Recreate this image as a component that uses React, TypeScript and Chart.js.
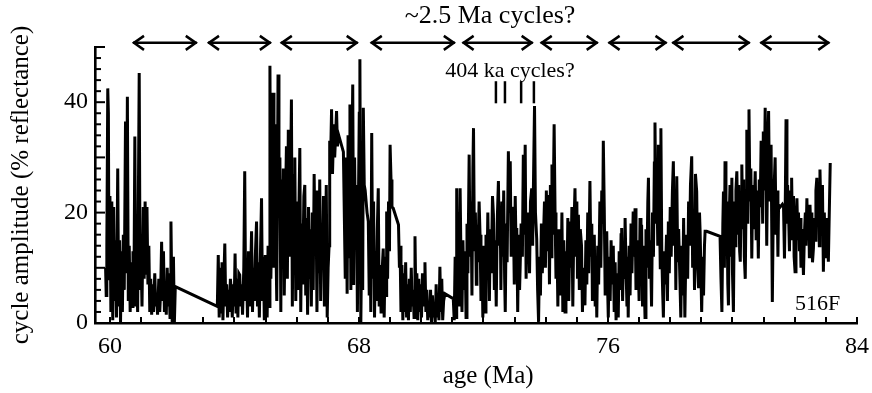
import React, { useEffect, useRef } from "react";
import { Chart, registerables } from "chart.js";

Chart.register(...registerables);

// ---- data (age in Ma, cycle amplitude in % reflectance) ----
const ageA = [59.86, 59.88, 59.90, 59.93, 59.95, 59.97, 60.00, 60.03, 60.06, 60.09, 60.12, 60.15, 60.18, 60.21, 60.25, 60.28, 60.31, 60.34, 60.37, 60.40, 60.43, 60.46, 60.50, 60.53, 60.56, 60.59, 60.62, 60.65, 60.68, 60.71, 60.74, 60.77, 60.80, 60.83, 60.86, 60.89, 60.94, 60.97, 61.00, 61.03, 61.07, 61.10, 61.13, 61.16, 61.19, 61.22, 61.25, 61.28, 61.31, 61.34, 61.37, 61.40, 61.44, 61.47, 61.50, 61.53, 61.57, 61.60, 61.63, 61.66, 61.69, 61.72, 61.75, 61.78, 61.81, 61.84, 61.87, 61.90, 61.93, 61.96, 62.00, 62.04, 62.07, 62.10];
const ampA = [10, 5, 14, 42.5, 38, 8, 23, 2, 22, 0.5, 21, 4, 15, 1, 28, 3, 15, 0, 13, 2, 16, 6, 36.5, 9, 41, 4, 14, 2, 11, 3, 13, 5, 33.8, 3, 10, 2, 45.3, 6, 12, 3, 21, 8, 22, 9, 21, 7, 14, 2, 8, 1.5, 7, 2, 9, 3, 5, 1.5, 8, 2, 6, 14.7, 4, 13, 2, 7, 1.5, 10, 3, 9, 1, 18.4, 0, 12, 0, 6.6];

const ageB = [63.45, 63.48, 63.51, 63.54, 63.57, 63.60, 63.63, 63.66, 63.69, 63.72, 63.75, 63.78, 63.81, 63.84, 63.87, 63.90, 63.93, 63.96, 63.99, 64.02, 64.05, 64.08, 64.11, 64.14, 64.17, 64.20, 64.23, 64.26, 64.30, 64.33, 64.36, 64.39, 64.42, 64.45, 64.48, 64.52, 64.55, 64.58, 64.61, 64.64, 64.67, 64.71, 64.74, 64.77, 64.80, 64.84, 64.87, 64.90, 64.93, 64.96, 64.99, 65.02];
const ampB = [3, 12.3, 1, 10, 2, 11, 0.5, 8, 14.4, 3, 7, 1, 6, 2, 8, 5.7, 1, 7, 3, 12.6, 2, 8, 1, 9, 8.7, 3, 7, 1.5, 10, 27.5, 4, 9, 1, 13, 3, 9, 16.6, 2, 10, 4, 12, 18.4, 3, 11, 1, 14, 22.6, 4, 12, 0.5, 12.3, 5];

const ageC = [65.05, 65.08, 65.11, 65.14, 65.17, 65.20, 65.24, 65.27, 65.30, 65.33, 65.36, 65.40, 65.43, 65.46, 65.49, 65.51, 65.54, 65.57, 65.60, 65.64, 65.67, 65.70, 65.73, 65.76, 65.80, 65.83, 65.86, 65.89, 65.92, 65.94, 65.97, 66.00, 66.03, 66.07, 66.10, 66.13, 66.16, 66.19, 66.23, 66.26, 66.29, 66.32, 66.35, 66.38, 66.41, 66.44, 66.47, 66.50, 66.53, 66.56, 66.59, 66.62, 66.65, 66.68, 66.71, 66.74, 66.77, 66.80, 66.83, 66.86, 66.89, 66.92, 66.95, 66.98, 67.01, 67.04, 67.06, 67.09, 67.12, 67.15, 67.19, 67.22, 67.25, 67.28, 67.31];
const ampC = [1, 14, 3, 46.6, 8, 20, 41.7, 10, 36, 15, 4, 45, 20, 30, 2, 26, 10, 28, 5, 22, 32, 8, 35, 12, 24, 40.5, 3, 27, 9, 30, 4, 22, 6, 20, 31.7, 2, 18, 7, 23, 25, 5, 19, 1.5, 21, 8, 17, 3, 20, 6, 27, 14, 24, 2, 18, 9, 26, 4, 17, 11, 23, 3, 12, 25, 1, 10, 14, 33, 30, 38.7, 27, 36, 30, 34, 38.4, 32];

const ageD = [67.34, 67.50, 67.56, 67.59, 67.62, 67.65, 67.68, 67.71, 67.74, 67.77, 67.80, 67.83, 67.86, 67.89, 67.92, 67.95, 67.98, 68.01, 68.03, 68.06, 68.09, 68.12, 68.14, 68.17, 68.20, 68.23, 68.26, 68.30, 68.33, 68.36, 68.38, 68.41, 68.44, 68.47, 68.50, 68.53, 68.56, 68.59, 68.62, 68.65, 68.68, 68.71, 68.74, 68.78, 68.81, 68.84, 68.87, 68.89, 68.92, 68.95, 68.98, 69.00, 69.03, 69.06, 69.10, 69.27, 69.30, 69.32, 69.35, 69.38, 69.41, 69.44, 69.47, 69.50, 69.53, 69.56, 69.59, 69.62, 69.65, 69.68, 69.71, 69.74, 69.77, 69.80, 69.83, 69.86, 69.89, 69.92, 69.95, 69.98, 70.01, 70.04, 70.07, 70.10, 70.12, 70.15, 70.18, 70.21, 70.24, 70.27, 70.30, 70.33, 70.36, 70.39, 70.42, 70.45, 70.48, 70.51, 70.54, 70.57, 70.60, 70.63, 70.66, 70.69, 70.72, 70.76, 71.03, 71.06, 71.09, 71.12, 71.14];
const ampD = [34.2, 31, 8, 30, 5.3, 34, 12, 39.6, 6, 27, 43.2, 6.9, 30, 15, 25, 2, 20, 38, 47.8, 0, 16, 6, 39, 25, 24, 22, 20, 18.4, 5, 14, 2, 34.4, 8, 22, 1, 13, 4, 17, 24.4, 3, 10.5, 2, 9, 13.5, 1, 12, 5, 20.2, 8, 22, 13, 32.3, 26, 21, 20.8, 17.8, 10, 14, 2, 10.5, 0.5, 9, 2, 11, 1, 7, 0.5, 8, 2, 10, 3, 6, 1, 15.7, 3, 9, 0.5, 8, 2, 7, 1, 9, 3, 5, 11, 2, 6, 0.5, 4, 1, 6, 0, 5, 1, 3, 0, 7, 1, 4, 0.5, 10.2, 2, 8, 0.5, 4, 5.3, 4.4, 0.5, 12, 1, 24.4];

const ageE = [71.17, 71.20, 71.23, 71.25, 71.28, 71.31, 71.34, 71.37, 71.41, 71.44, 71.47, 71.50, 71.54, 71.57, 71.60, 71.63, 71.66, 71.68, 71.71, 71.74, 71.77, 71.79, 71.82, 71.86, 71.89, 71.92, 71.95, 71.98, 72.00, 72.03, 72.05, 72.08, 72.11, 72.14, 72.16, 72.19, 72.22, 72.25, 72.29, 72.32, 72.35, 72.38, 72.41, 72.44, 72.48, 72.51, 72.54, 72.56, 72.59, 72.62, 72.65, 72.68, 72.70, 72.73, 72.76, 72.80, 72.83, 72.86, 72.89, 72.92, 72.96, 72.99, 73.02, 73.05, 73.07, 73.10, 73.13, 73.16, 73.18, 73.21, 73.25, 73.28, 73.31, 73.34, 73.37, 73.40, 73.43, 73.45, 73.48, 73.51, 73.55, 73.58, 73.61, 73.64, 73.67, 73.71, 73.74, 73.77, 73.80, 73.83, 73.86, 73.89, 73.93, 73.96, 73.99, 74.02, 74.05, 74.09, 74.12, 74.15, 74.18, 74.20, 74.23, 74.27, 74.30, 74.33, 74.36, 74.39, 74.42, 74.46, 74.49, 74.52, 74.55, 74.58, 74.62, 74.65, 74.68, 74.71, 74.74, 74.78, 74.81, 74.84, 74.87, 74.90, 74.94];
const ampE = [8, 20, 3, 24.4, 10, 2, 15, 6, 13, 1, 18, 9, 30.5, 12, 22, 5, 28, 35.3, 13, 20, 7, 17.8, 11, 22, 16, 4, 14, 1, 9.3, 14, 2, 16, 8, 20, 13, 4, 17, 9, 23, 19.6, 6, 15, 3, 18, 25.7, 14, 19, 6, 22, 12, 24, 8, 2, 18, 11, 31.1, 20, 29.3, 12, 21, 19.6, 7, 23, 13, 17.2, 2, 16, 6, 10.5, 18, 12, 30.5, 16, 32.3, 8, 20, 11, 17.8, 9, 22, 24.4, 14, 27, 39.3, 20, 15.3, 6, 0.2, 12, 5, 18, 9, 16, 22, 10, 24, 13, 23.2, 7, 25, 12, 28.7, 16, 36, 20, 8, 15.3, 3, 17, 14, 5, 20, 2, 15, 2, 13, 6, 19, 4, 18.4, 10, 21, 3, 16, 24.4];

const ageF = [74.97, 75.00, 75.02, 75.05, 75.08, 75.11, 75.15, 75.18, 75.21, 75.24, 75.26, 75.29, 75.32, 75.35, 75.38, 75.42, 75.45, 75.48, 75.50, 75.53, 75.56, 75.59, 75.62, 75.64, 75.67, 75.70, 75.74, 75.77, 75.80, 75.83, 75.85, 75.88, 75.91, 75.94, 75.96, 75.99, 76.01, 76.04, 76.07, 76.10, 76.13, 76.17, 76.20, 76.23, 76.26, 76.29, 76.33, 76.36, 76.39, 76.42, 76.44, 76.47, 76.50, 76.53, 76.55, 76.58, 76.61, 76.63, 76.65, 76.68, 76.71, 76.74, 76.77, 76.81, 76.84, 76.87, 76.90, 76.93, 76.97, 77.00, 77.03, 77.06, 77.08, 77.11, 77.14, 77.17, 77.19, 77.22, 77.25, 77.28, 77.30, 77.33, 77.36, 77.40, 77.43, 77.46, 77.49, 77.51, 77.54, 77.57, 77.60, 77.62, 77.65, 77.68, 77.70, 77.73, 77.76, 77.78, 77.81, 77.84, 77.88, 77.91, 77.94, 77.97, 78.00, 78.03, 78.07, 78.10, 78.13, 78.16, 78.18, 78.21, 78.24, 78.27, 78.31, 78.34, 78.37, 78.40, 78.43, 78.47, 78.50, 78.53, 78.56, 78.59, 78.62, 78.65, 78.69, 78.72, 78.75, 78.78, 78.81, 78.85];
const ampF = [12, 22, 8, 19.6, 6, 17, 14, 2, 10, 5, 3.2, 15, 7, 20, 9, 25.7, 12, 18, 4, 11.1, 16, 3, 9, 1, 14, 7, 22, 10, 24, 18, 33, 21, 5, 13, 16.6, 6, 1, 12, 4, 15, 7, 14, 2, 11, 0.5, 9, 1, 13, 6, 16, 17.2, 4, 13, 8, 19, 10, 3, 12, 1, 14, 5, 18, 9, 20.2, 12, 20.8, 6, 15, 11.7, 4, 19, 9, 17.8, 3, 14, 6, 1, 17, 10, 22, 26.3, 8, 15, 3, 20, 12, 29, 36.3, 18, 26, 14, 32.3, 22, 10, 35.3, 12, 5, 1, 13, 7, 16, 4, 18.4, 9, 21, 12, 24, 29.3, 14, 20, 6, 26.6, 11, 17, 8, 1, 14, 5, 19, 1, 12, 16, 8, 22, 14, 25, 30.2, 10, 20, 6, 27, 23.8];

const ageG = [78.88, 78.91, 78.94, 78.96, 78.99, 79.01, 79.04, 79.07, 79.10, 79.12, 79.17, 79.60, 79.63, 79.66, 79.69, 79.71, 79.74, 79.76, 79.79, 79.82, 79.85, 79.87, 79.90, 79.92, 79.95, 79.98, 80.00, 80.03, 80.06, 80.09, 80.11, 80.14, 80.17, 80.20, 80.23, 80.25, 80.28, 80.30, 80.33, 80.36, 80.38, 80.41, 80.44, 80.46, 80.49, 80.51, 80.53, 80.56, 80.59, 80.62, 80.65, 80.68, 80.71, 80.73, 80.76, 80.79, 80.81, 80.83, 80.86, 80.89, 80.92, 80.94, 80.97, 80.99, 81.02, 81.05, 81.08, 81.10, 81.13, 81.16, 81.19, 81.22, 81.24, 81.28, 81.31, 81.34, 81.37, 81.40, 81.43, 81.46, 81.48, 81.53, 81.60, 81.64, 81.67, 81.70, 81.72, 81.75, 81.77, 81.80, 81.83, 81.86, 81.88, 81.90, 81.93, 81.96, 81.98, 82.01, 82.04, 82.07, 82.10, 82.12, 82.15, 82.17, 82.20, 82.23, 82.25, 82.28, 82.31, 82.34, 82.36, 82.39, 82.42, 82.45, 82.47, 82.49, 82.52, 82.55, 82.57, 82.60, 82.63, 82.66, 82.68, 82.71, 82.74, 82.76, 82.79, 82.81, 82.84, 82.87, 82.89, 82.92, 82.95, 82.98, 83.00, 83.03, 83.06, 83.08, 83.14];
const ampG = [10, 6.3, 20, 16.6, 8, 2, 12, 5, 14, 16.6, 16.6, 15.7, 8, 2, 18, 23.8, 10, 29.3, 14, 22, 7, 3.2, 20, 25, 12, 26.3, 9, 2, 22, 14, 24, 27.5, 16, 25, 13, 11.1, 23, 28.7, 17, 26, 12, 8, 24, 35, 18, 30, 38.7, 22, 28, 11.7, 25, 17, 23, 27.5, 15, 24, 19, 11.7, 26, 21, 33, 30, 18, 34.7, 24, 39, 26, 14, 30, 38.4, 22, 29, 32.3, 3.8, 20, 25, 30, 16, 24, 12, 21.4, 21, 21.5, 21, 11.7, 24, 36.9, 18, 25, 20.2, 13, 24, 17, 26.3, 15, 23, 12, 9.3, 18, 22.6, 15, 20, 13, 19, 10, 17, 14, 8.7, 16, 20, 14, 22.6, 15, 19, 12, 21.4, 16, 20, 11, 13.5, 19, 15, 24, 26.3, 18, 22, 14, 27.8, 20, 16, 25, 9.3, 20, 12, 16, 19, 14, 11.1, 29];

const ages = [...ageA, ...ageB, ...ageC, ...ageD, ...ageE, ...ageF, ...ageG];
const amps = [...ampA, ...ampB, ...ampC, ...ampD, ...ampE, ...ampF, ...ampG];

// ---- axes ----
const xMin = 59.52;
const xMax = 84;
const yMin = 0;
const yMax = 50;
const xTickMarks = [60, 61, 62, 63, 64, 65, 66, 67, 68, 69, 70, 71, 72, 73, 74, 75, 76, 77, 78, 79, 80, 81, 82, 83, 84];
const xTickLabels = [60, 68, 76, 84];
const yTickMarks = [0, 2, 4, 6, 8, 10, 12, 14, 16, 18, 20, 22, 24, 26, 28, 30, 32, 34, 36, 38, 40, 42, 44, 46, 48, 50];
const yTickLabels = [0, 20, 40];

// ---- annotations ----
const cycleArrowStarts = [60.74, 63.15, 65.49, 68.38, 71.33, 73.84, 76.02, 78.07, 80.90];
const cycleArrowEnds = [62.79, 65.17, 67.96, 71.08, 73.58, 75.67, 77.88, 80.55, 83.11];
const marks404 = [72.40, 72.69, 73.21, 73.62];

const FONT = "'Liberation Serif', 'Times New Roman', serif";

const annotationPlugin = {
  id: "figureAnnotations",
  afterDraw(chart: any) {
    const { ctx, chartArea, scales } = chart;
    const xs = scales.x;
    const ys = scales.y;
    ctx.save();
    ctx.strokeStyle = "#000";
    ctx.fillStyle = "#000";
    ctx.lineCap = "butt";

    // inward tick marks
    ctx.lineWidth = 2;
    for (const v of xTickMarks) {
      const px = Math.round(xs.getPixelForValue(v));
      ctx.beginPath();
      ctx.moveTo(px, chartArea.bottom);
      ctx.lineTo(px, chartArea.bottom - 6);
      ctx.stroke();
    }
    for (const v of yTickMarks) {
      const py = ys.getPixelForValue(v);
      const len = v % 10 === 0 ? 10 : 6;
      ctx.beginPath();
      ctx.moveTo(chartArea.left, py);
      ctx.lineTo(chartArea.left + len, py);
      ctx.stroke();
    }

    // ~2.5 Ma double arrows
    ctx.lineWidth = 2.5;
    const ay = ys.getPixelForValue(50.75);
    for (let i = 0; i < cycleArrowStarts.length; i++) {
      const x1 = xs.getPixelForValue(cycleArrowStarts[i]);
      const x2 = xs.getPixelForValue(cycleArrowEnds[i]);
      ctx.beginPath();
      ctx.moveTo(x1, ay);
      ctx.lineTo(x2, ay);
      ctx.stroke();
      ctx.beginPath();
      ctx.moveTo(x1 + 11, ay - 7);
      ctx.lineTo(x1 + 1, ay);
      ctx.lineTo(x1 + 11, ay + 7);
      ctx.moveTo(x2 - 11, ay - 7);
      ctx.lineTo(x2 - 1, ay);
      ctx.lineTo(x2 - 11, ay + 7);
      ctx.stroke();
    }

    // 404 ka marks
    ctx.lineWidth = 2.5;
    for (const v of marks404) {
      const px = xs.getPixelForValue(v);
      ctx.beginPath();
      ctx.moveTo(px, ys.getPixelForValue(43.8));
      ctx.lineTo(px, ys.getPixelForValue(39.8));
      ctx.stroke();
    }

    // texts
    ctx.textAlign = "center";
    ctx.textBaseline = "middle";
    ctx.font = `26px ${FONT}`;
    ctx.fillText("~2.5 Ma cycles?", xs.getPixelForValue(72.21), chartArea.top - 31);
    ctx.font = `22px ${FONT}`;
    ctx.fillText("404 ka cycles?", xs.getPixelForValue(72.85), ys.getPixelForValue(45.6));
    ctx.textAlign = "right";
    ctx.textBaseline = "alphabetic";
    ctx.fillText("516F", xs.getPixelForValue(83.46), ys.getPixelForValue(2.4));

    // x axis title
    ctx.font = `25px ${FONT}`;
    ctx.textAlign = "center";
    ctx.textBaseline = "middle";
    ctx.fillText("age (Ma)", xs.getPixelForValue(72.15), chartArea.bottom + 53);
    ctx.restore();
  },
};

export default function App() {
  const canvasRef = useRef<HTMLCanvasElement | null>(null);

  useEffect(() => {
    if (!canvasRef.current) return;
    const points = ages.map((a, i) => ({ x: a, y: amps[i] }));
    const chart = new Chart(canvasRef.current, {
      type: "line",
      data: {
        datasets: [
          {
            data: points,
            borderColor: "#000",
            borderWidth: 3,
            pointRadius: 0,
            tension: 0,
            fill: false,
          },
        ],
      },
      options: {
        responsive: false,
        animation: false,
        events: [],
        layout: { padding: { top: 47, right: 15, left: 0, bottom: 0 } },
        plugins: { legend: { display: false }, tooltip: { enabled: false } },
        scales: {
          x: {
            type: "linear",
            min: xMin,
            max: xMax,
            grid: { display: false, drawTicks: false },
            border: { display: true, color: "#000", width: 2.6 },
            afterBuildTicks: (scale: any) => {
              scale.ticks = xTickLabels.map((v) => ({ value: v }));
            },
            afterFit: (scale: any) => {
              scale.height = 70;
              scale.paddingLeft = 0;
              scale.paddingRight = 0;
            },
            ticks: {
              color: "#000",
              font: { family: FONT, size: 24 },
              padding: 9,
              maxRotation: 0,
              autoSkip: false,
              callback: (v: any) => String(v),
            },
          },
          y: {
            type: "linear",
            min: yMin,
            max: yMax,
            grid: { display: false, drawTicks: false },
            border: { display: true, color: "#000", width: 2.6 },
            afterBuildTicks: (scale: any) => {
              scale.ticks = yTickLabels.map((v) => ({ value: v }));
            },
            afterFit: (scale: any) => {
              scale.width = 95;
            },
            ticks: {
              color: "#000",
              font: { family: FONT, size: 24 },
              padding: 7,
              callback: (v: any) => String(v),
            },
            title: {
              display: true,
              text: "cycle amplitude (% reflectance)",
              color: "#000",
              font: { family: FONT, size: 25, lineHeight: 1 },
              padding: { top: 9, bottom: 0 },
            },
          },
        },
      },
      plugins: [annotationPlugin],
    });
    return () => chart.destroy();
  }, []);

  return (
    <div style={{ position: "absolute", left: 0, top: 0, width: 872, height: 393 }}>
      <canvas ref={canvasRef} width={872} height={393} style={{ display: "block" }} />
    </div>
  );
}
